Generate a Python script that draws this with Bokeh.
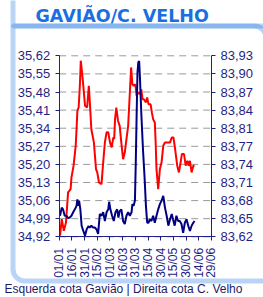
import numpy as np
from bokeh.plotting import figure
from bokeh.models import Range1d, LinearAxis, FixedTicker, BoxAnnotation, Label
from bokeh.embed import file_html
from bokeh.resources import INLINE

# ---- data ----
x_tick_days = [0, 15, 30, 45, 60, 75, 90, 105, 120, 135, 150, 165, 180]
x_tick_labels = ["01/01", "16/01", "31/01", "15/02", "01/03", "16/03", "31/03",
                 "15/04", "30/04", "15/05", "30/05", "14/06", "29/06"]

left_ticks = [34.92, 34.99, 35.06, 35.13, 35.20, 35.27, 35.34, 35.41, 35.48, 35.55, 35.62]
left_tick_labels = ["34,92", "34,99", "35,06", "35,13", "35,20", "35,27", "35,34",
                    "35,41", "35,48", "35,55", "35,62"]
right_ticks = [83.62, 83.651, 83.682, 83.713, 83.744, 83.775, 83.806, 83.837, 83.868, 83.899, 83.93]
right_tick_labels = ["83,62", "83,65", "83,68", "83,71", "83,74", "83,77", "83,81",
                     "83,84", "83,87", "83,90", "83,93"]

# Gaviao (left axis) - red
gaviao_days = [1, 3, 5.5, 8, 10.5, 13.5, 14.5, 17, 19.5, 20.5, 21.5, 23, 24.5, 25.5, 27,
               28.5, 30.5, 33, 35, 36, 38, 41, 43.5, 45, 47, 50, 52, 54, 56, 58, 60, 62,
               64, 65, 66, 67.5, 69.5, 71.5, 73, 75.5, 77.5, 79.5, 81.5, 83.5, 85, 86.5,
               88, 90, 91.5, 93.5, 95.5, 97, 98.5, 100, 102.5, 104, 105.5, 108, 109.5,
               111, 113, 114, 115, 117, 119, 121, 123, 125, 129, 131, 133, 135, 136.5,
               139.5, 141.5, 143.5, 145, 147.5, 149.5, 151.5, 153, 154.5, 156.5, 158.5, 160]
gaviao_vals = [34.924, 34.988, 34.943, 34.975, 35.092, 35.104, 35.150, 35.195, 35.272,
               35.336, 35.407, 35.420, 35.510, 35.601, 35.556, 35.504, 35.427, 35.420,
               35.504, 35.452, 35.336, 35.285, 35.182, 35.169, 35.130, 35.124, 35.208,
               35.285, 35.324, 35.324, 35.285, 35.266, 35.304, 35.298, 35.375, 35.420,
               35.369, 35.349, 35.298, 35.220, 35.246, 35.298, 35.349, 35.478, 35.575,
               35.510, 35.504, 35.510, 35.465, 35.478, 35.472, 35.490, 35.452, 35.452,
               35.440, 35.459, 35.433, 35.433, 35.401, 35.375, 35.362, 35.285, 35.182,
               35.104, 35.182, 35.208, 35.272, 35.285, 35.285, 35.285, 35.304, 35.304,
               35.272, 35.195, 35.169, 35.208, 35.240, 35.240, 35.195, 35.214, 35.195,
               35.214, 35.169, 35.195, 35.195]

# C. Velho (right axis) - navy
velho_days = [1, 3, 4.5, 6.5, 8.5, 10.5, 12.5, 14.5, 16.5, 18.5, 20.5, 21.5, 22.5, 23.5,
              25, 26.5, 28.5, 30.5, 32.5, 34.5, 36, 38, 40, 42, 44, 46, 48, 50, 52, 54,
              56, 58, 59, 60.5, 62.5, 64.5, 66.5, 68.5, 70, 71.5, 73.5, 75.5, 77.5, 79.5,
              81.5, 83.5, 85.5, 86.5, 88, 89.5, 90.5, 91.5, 92.5, 93.5, 94.5, 95.5, 97,
              99, 101, 102.5, 104, 105.5, 107, 109, 111, 113, 115, 117, 119, 121, 123,
              125, 127, 129, 131, 133, 134.5, 136.5, 138.5, 140.5, 142.5, 144.5, 146.5,
              148.5, 150.5, 152.5, 154.5, 156.5, 158.5, 160]
velho_vals = [83.656, 83.670, 83.667, 83.656, 83.656, 83.652, 83.653, 83.656, 83.662,
              83.667, 83.673, 83.684, 83.673, 83.682, 83.667, 83.639, 83.630, 83.622,
              83.633, 83.638, 83.636, 83.639, 83.636, 83.636, 83.633, 83.625, 83.659,
              83.656, 83.662, 83.647, 83.662, 83.667, 83.680, 83.667, 83.656, 83.647,
              83.662, 83.667, 83.653, 83.664, 83.667, 83.647, 83.642, 83.656, 83.662,
              83.656, 83.662, 83.676, 83.673, 83.682, 83.747, 83.827, 83.901, 83.919,
              83.921, 83.890, 83.833, 83.770, 83.719, 83.673, 83.644, 83.644, 83.650,
              83.647, 83.656, 83.644, 83.656, 83.667, 83.676, 83.682, 83.690, 83.670,
              83.656, 83.639, 83.650, 83.659, 83.650, 83.639, 83.656, 83.647, 83.647,
              83.642, 83.627, 83.644, 83.650, 83.639, 83.630, 83.639, 83.644, 83.647]

title_text = "GAVIÃO/C. VELHO"
footer_text = "Esquerda cota Gavião | Direita cota C. Velho"

# ---- layout (pixel geometry of the canvas) ----
W, H = 263, 297
X0_PX, X1_PX = 58.7, 211.0      # plot area left / right
YB_PX, YT_PX = 236.3, 55.3      # plot area bottom / top
x_lo, x_hi = x_tick_days[0], x_tick_days[-1]
yl_lo, yl_hi = left_ticks[0], left_ticks[-1]
yr_lo, yr_hi = right_ticks[0], right_ticks[-1]

def px_x(px):
    return x_lo + (px - X0_PX) * (x_hi - x_lo) / (X1_PX - X0_PX)

def px_yl(py):
    return yl_lo + (YB_PX - py) * (yl_hi - yl_lo) / (YB_PX - YT_PX)

def px_yr(py):
    return yr_lo + (YB_PX - py) * (yr_hi - yr_lo) / (YB_PX - YT_PX)

NAVY = "#1f1f86"
FRAME_BLUE = "#1a6fe0"

p = figure(width=W, height=H,
           x_range=Range1d(px_x(0), px_x(W)), y_range=Range1d(px_yl(H), px_yl(0)),
           output_backend="svg", toolbar_location=None,
           min_border=0, min_border_left=0, min_border_right=0,
           min_border_top=0, min_border_bottom=0)
p.title.visible = False
p.extra_y_ranges = {"r": Range1d(px_yr(H), px_yr(0))}
p.outline_line_color = None
p.background_fill_color = "white"
p.border_fill_color = "white"
p.xgrid.visible = False
p.ygrid.visible = False

# dashed horizontal gridlines inside the plot area
p.segment(x0=[x_lo] * len(left_ticks), x1=[x_hi] * len(left_ticks),
          y0=left_ticks, y1=left_ticks,
          line_color="#9a9a9a", line_dash="7 5", line_width=1)

def style_axis(ax, size):
    ax.axis_line_color = NAVY
    ax.axis_line_width = 1
    ax.major_tick_line_color = NAVY
    ax.major_tick_in = 0
    ax.major_tick_out = 4
    ax.minor_tick_line_color = None
    ax.major_label_text_color = NAVY
    ax.major_label_text_font = "Liberation Sans"
    ax.major_label_text_font_size = size

xa = p.xaxis[0]
xa.fixed_location = yl_lo
xa.bounds = (x_lo, x_hi)
xa.ticker = FixedTicker(ticks=x_tick_days)
xa.major_label_overrides = {d: l for d, l in zip(x_tick_days, x_tick_labels)}
xa.major_label_orientation = np.pi / 2
style_axis(xa, "12px")
xa.major_label_standoff = 7

ya = p.yaxis[0]
ya.fixed_location = x_lo
ya.bounds = (yl_lo, yl_hi)
ya.ticker = FixedTicker(ticks=left_ticks)
ya.major_label_overrides = {t: l for t, l in zip(left_ticks, left_tick_labels)}
style_axis(ya, "13px")
ya.major_label_standoff = 5

ra = LinearAxis(y_range_name="r", fixed_location=x_hi, bounds=(yr_lo, yr_hi),
                ticker=FixedTicker(ticks=right_ticks))
ra.major_label_overrides = {t: l for t, l in zip(right_ticks, right_tick_labels)}
style_axis(ra, "13px")
ra.major_label_standoff = 5
p.add_layout(ra, "right")

p.line(gaviao_days, gaviao_vals, line_color="#ff0000", line_width=2)
p.line(velho_days, velho_vals, line_color="#000080", line_width=2, y_range_name="r")

# decorative blue frame
title_box = BoxAnnotation(left=px_x(12.5), right=px_x(268), top=px_yl(-5), bottom=px_yl(25.5),
                          fill_alpha=0, line_color=FRAME_BLUE, line_width=5,
                          border_radius=(0, 12, 0, 0))
main_box = BoxAnnotation(left=px_x(12.5), right=px_x(265.5), top=px_yl(25.5), bottom=px_yl(280.5),
                         fill_alpha=0, line_color=FRAME_BLUE, line_width=5,
                         border_radius=(0, 12, 0, 12))
p.add_layout(title_box)
p.add_layout(main_box)

p.add_layout(Label(x=px_x(35), y=px_yl(15.5), text=title_text,
                   text_font="DejaVu Sans", text_font_style="bold", text_font_size="17.5px",
                   text_color=FRAME_BLUE, text_baseline="alphabetic"))
p.add_layout(Label(x=px_x(4), y=px_yl(281.5), text=footer_text,
                   text_font="Liberation Sans", text_font_size="12px",
                   text_color="#1c1c66", text_baseline="top"))

open("out.html", "w").write(file_html(p, INLINE))
